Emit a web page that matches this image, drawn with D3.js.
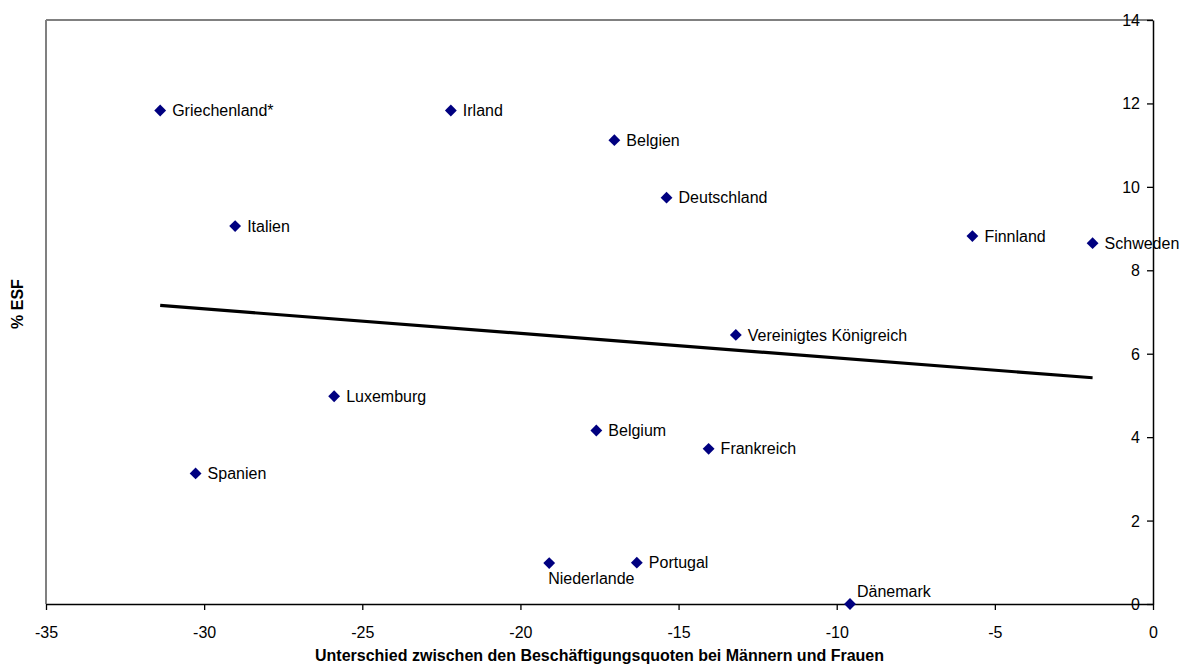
<!DOCTYPE html>
<html>
<head>
<meta charset="utf-8">
<script src="https://cdn.jsdelivr.net/npm/d3@7"></script>
<style>
  html, body { margin: 0; padding: 0; background: #fff; }
  svg { display: block; font-family: "Liberation Sans", Arial, sans-serif; }
</style>
</head>
<body>
<svg id="chart" width="1179" height="666"></svg>
<script>
// Countries with gender employment gap (x) and ESF share (y)
const countries = [
  "Griechenland*", "Irland", "Belgien", "Deutschland", "Italien",
  "Finnland", "Schweden", "Vereinigtes Königreich", "Luxemburg", "Belgium",
  "Frankreich", "Spanien", "Niederlande", "Portugal", "Dänemark"
];
const employmentGap = [
  -31.39, -22.20, -17.03, -15.38, -29.02,
  -5.71, -1.91, -13.19, -25.89, -17.60,
  -14.05, -30.27, -19.09, -16.32, -9.58
];
const esfShare = [
  11.83, 11.83, 11.12, 9.74, 9.06,
  8.82, 8.65, 6.45, 4.98, 4.16,
  3.72, 3.13, 0.98, 0.99, 0.00
];
const xTicks = [-35, -30, -25, -20, -15, -10, -5, 0];
const yTicks = [0, 2, 4, 6, 8, 10, 12, 14];

const xTitle = "Unterschied zwischen den Beschäftigungsquoten bei Männern und Frauen";
const yTitle = "% ESF";

// Label placement: default is to the right of the marker
const labelPlacement = { "Niederlande": "below", "Dänemark": "above" };

const svg = d3.select("#chart");
const plot = { left: 46, right: 1153, top: 20, bottom: 604 };

const x = d3.scaleLinear().domain([-35, 0]).range([plot.left, plot.right]);
const y = d3.scaleLinear().domain([0, 14]).range([plot.bottom, plot.top]);

const points = countries.map((c, i) => ({ name: c, x: employmentGap[i], y: esfShare[i] }));

// Plot-area frame (top and left edges in grey)
svg.append("line")
  .attr("x1", plot.left).attr("x2", plot.right)
  .attr("y1", plot.top).attr("y2", plot.top)
  .attr("stroke", "#808080").attr("stroke-width", 2);
svg.append("line")
  .attr("x1", plot.left).attr("x2", plot.left)
  .attr("y1", plot.top).attr("y2", plot.bottom)
  .attr("stroke", "#808080").attr("stroke-width", 2);

// Linear least-squares trend line across the data range
const mx = d3.mean(points, d => d.x);
const my = d3.mean(points, d => d.y);
const slope = d3.sum(points, d => (d.x - mx) * (d.y - my)) / d3.sum(points, d => (d.x - mx) ** 2);
const intercept = my - slope * mx;
const [xmin, xmax] = d3.extent(points, d => d.x);
const trend = [xmin, xmax].map(v => [v, intercept + slope * v]);

svg.append("path")
  .datum(trend)
  .attr("fill", "none")
  .attr("stroke", "#000")
  .attr("stroke-width", 3.2)
  .attr("d", d3.line().x(d => x(d[0])).y(d => y(d[1])));

// Axes
const xAxis = svg.append("g")
  .attr("transform", `translate(0,${plot.bottom})`)
  .call(d3.axisBottom(x).tickValues(xTicks).tickSize(6).tickSizeOuter(0).tickPadding(17)
    .tickFormat(d3.format("d")));
const yAxis = svg.append("g")
  .attr("transform", `translate(${plot.right},0)`)
  .call(d3.axisLeft(y).tickValues(yTicks).tickSize(6).tickSizeOuter(0).tickPadding(7)
    .tickFormat(d3.format("d")));

[xAxis, yAxis].forEach(g => {
  g.select(".domain").attr("stroke", "#000").attr("stroke-width", 1.5);
  g.selectAll(".tick line").attr("stroke", "#000").attr("stroke-width", 1.3);
  g.selectAll(".tick text")
    .attr("fill", "#000")
    .style("font-size", "16px")
    .style("font-family", '"Liberation Sans", Arial, sans-serif');
});
xAxis.selectAll(".tick text").text(d => d3.format("d")(d).replace("−", "-"));
yAxis.selectAll(".tick text").attr("dy", "0.34em");

// Markers
const diamond = d3.symbol().type(d3.symbolSquare).size(70);
svg.append("g").selectAll("path")
  .data(points)
  .join("path")
  .attr("d", diamond)
  .attr("transform", d => `translate(${x(d.x)},${y(d.y)}) rotate(45)`)
  .attr("fill", "#000080");

// Data labels
svg.append("g").selectAll("text")
  .data(points)
  .join("text")
  .attr("x", d => {
    const p = labelPlacement[d.name];
    if (p === "below") return x(d.x) - 1;
    if (p === "above") return x(d.x) + 7;
    return x(d.x) + 12;
  })
  .attr("y", d => {
    const p = labelPlacement[d.name];
    if (p === "below") return y(d.y) + 15;
    if (p === "above") return y(d.y) - 13;
    return y(d.y);
  })
  .attr("dy", "0.35em")
  .attr("fill", "#000")
  .style("font-size", "16px")
  .text(d => d.name);

// Axis titles
svg.append("text")
  .attr("x", (plot.left + plot.right) / 2)
  .attr("y", 661)
  .attr("text-anchor", "middle")
  .style("font-size", "16px")
  .style("font-weight", "bold")
  .text(xTitle);

svg.append("text")
  .attr("transform", `translate(23,${(plot.top + plot.bottom) / 2 - 8}) rotate(-90)`)
  .attr("text-anchor", "middle")
  .style("font-size", "16px")
  .style("font-weight", "bold")
  .text(yTitle);
</script>
</body>
</html>
